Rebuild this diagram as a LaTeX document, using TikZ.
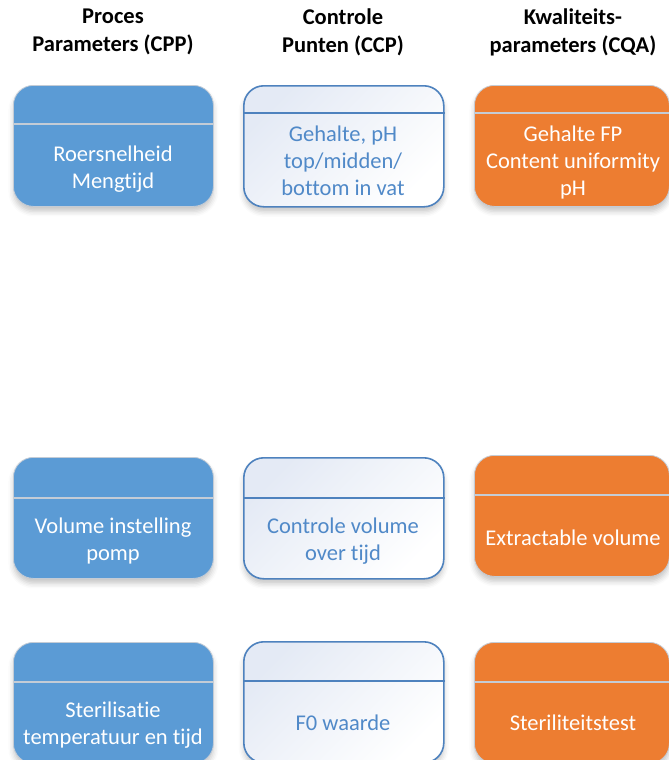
\documentclass[tikz,border=0pt]{standalone}
\usepackage{fontspec}
\setmainfont[Ligatures=NoCommon]{Carlito}
\usetikzlibrary{shadows.blur}
\definecolor{cppblue}{HTML}{5B9BD5}
\definecolor{cqaorange}{HTML}{ED7D31}
\definecolor{ccpline}{HTML}{4E82BE}
\definecolor{ccptext}{HTML}{5089C8}
\definecolor{ccpshade}{HTML}{E4EAF5}
\definecolor{rimgray}{HTML}{C4CCD6}
\tikzset{
  x=1pt, y=-1pt,
  boxbase/.style={rounded corners=20pt, anchor=north west, minimum height=121pt,
    inner sep=0pt, blur shadow={shadow xshift=0pt, shadow yshift=-5pt,
    shadow blur radius=5pt, shadow opacity=22}},
  cppbox/.style={boxbase, fill=cppblue, draw=rimgray, line width=0.8pt, minimum width=200pt},
  ccpbox/.style={boxbase, top color=ccpshade, bottom color=white, shading angle=45,
    draw=ccpline, line width=1.6pt, minimum width=200pt},
  cqabox/.style={boxbase, fill=cqaorange, draw=rimgray, line width=0.8pt, minimum width=195pt},
  rimline/.style={draw=rimgray, line width=1.2pt},
  ccprule/.style={draw=ccpline, line width=1.6pt},
  head/.style={font=\fontsize{22.5}{28}\selectfont\bfseries, align=center, text=black},
  bodytxt/.style={font=\fontsize{22.5}{27}\selectfont, align=center, text=white},
  ccptxt/.style={bodytxt, text=ccptext}
}
\begin{document}
\begin{tikzpicture}
\useasboundingbox (0,0) rectangle (669,760);

% column headings
\node[head] (h1) at (113,32) {Proces\\Parameters (CPP)};
\node[head] (h2) at (343,32) {Controle\\Punten (CCP)};
\node[head] (h3) at (573,32) {Kwaliteits-\\parameters (CQA)};

% first row
\node[cppbox] (a1) at (13,85) {};
\draw[rimline] ([yshift=-39pt]a1.north west) -- ([yshift=-39pt]a1.north east);
\node[bodytxt] (ta1) at (113,169) {Roersnelheid\\Mengtijd};

\node[ccpbox] (b1) at (243,85) {};
\draw[ccprule] ([yshift=-28pt]b1.north west) -- ([yshift=-28pt]b1.north east);
\node[ccptxt] (tb1) at (343,161) {Gehalte, pH\\top/midden/\\bottom in vat};

\node[cqabox] (c1) at (474,85) {};
\draw[rimline] ([yshift=-28pt]c1.north west) -- ([yshift=-28pt]c1.north east);
\node[bodytxt] (tc1) at (573,162) {Gehalte FP\\Content uniformity\\pH};

% second row
\node[cppbox] (a2) at (13,457) {};
\draw[rimline] ([yshift=-41pt]a2.north west) -- ([yshift=-41pt]a2.north east);
\node[bodytxt] (ta2) at (113,541) {Volume instelling\\pomp};

\node[ccpbox] (b2) at (243,457) {};
\draw[ccprule] ([yshift=-41pt]b2.north west) -- ([yshift=-41pt]b2.north east);
\node[ccptxt] (tb2) at (343,541) {Controle volume\\over tijd};

\node[cqabox] (c2) at (474,455) {};
\draw[rimline] ([yshift=-40pt]c2.north west) -- ([yshift=-40pt]c2.north east);
\node[bodytxt] (tc2) at (573,538) {Extractable volume};

% third row
\node[cppbox] (a3) at (13,642) {};
\draw[rimline] ([yshift=-40pt]a3.north west) -- ([yshift=-40pt]a3.north east);
\node[bodytxt] (ta3) at (113,725) {Sterilisatie\\temperatuur en tijd};

\node[ccpbox] (b3) at (243,641) {};
\draw[ccprule] ([yshift=-40pt]b3.north west) -- ([yshift=-40pt]b3.north east);
\node[ccptxt] (tb3) at (343,723) {F0 waarde};

\node[cqabox] (c3) at (474,642) {};
\draw[rimline] ([yshift=-40pt]c3.north west) -- ([yshift=-40pt]c3.north east);
\node[bodytxt] (tc3) at (573,723) {Steriliteitstest};
\end{tikzpicture}
\end{document}
